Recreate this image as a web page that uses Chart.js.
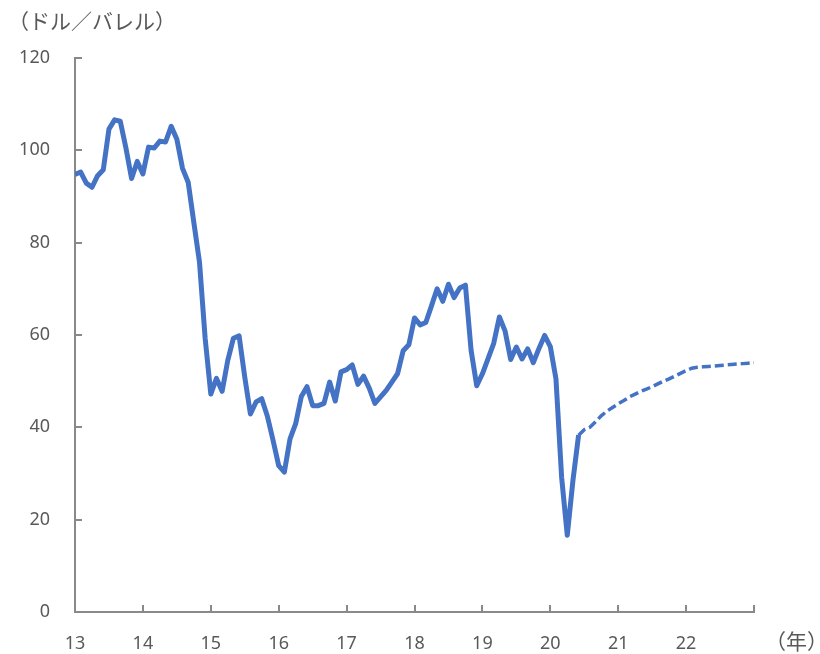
<!DOCTYPE html>
<html>
<head>
<meta charset="utf-8">
<script src="https://cdn.jsdelivr.net/npm/chart.js@4.4.0/dist/chart.umd.min.js"></script>
<style>
    body { margin: 0; background: #ffffff; }
    #wrap { width: 820px; height: 654px; }
</style>
</head>
<body>
<div id="wrap"><canvas id="graphCanvasPetroleo" width="820" height="654"></canvas></div>
<script>
// 月次の原油価格 2013年1月〜2020年6月（ドル／バレル）
var precoReal = [
    94.8, 95.3, 92.9, 92.0, 94.5, 95.8, 104.6, 106.6, 106.3, 100.5, 93.9, 97.6,
    94.9, 100.7, 100.5, 102.0, 101.8, 105.2, 102.4, 96.1, 93.1, 84.4, 75.8, 59.3,
    47.2, 50.6, 47.8, 54.5, 59.3, 59.8, 50.9, 42.9, 45.5, 46.2, 42.4, 37.2,
    31.7, 30.3, 37.5, 40.8, 46.7, 48.8, 44.7, 44.7, 45.2, 49.8, 45.7, 52.0,
    52.5, 53.5, 49.3, 51.1, 48.5, 45.2, 46.6, 48.0, 49.8, 51.6, 56.6, 57.9,
    63.7, 62.2, 62.7, 66.3, 70.0, 67.3, 71.0, 68.1, 70.2, 70.8, 56.7, 49.0,
    51.6, 54.9, 58.2, 63.9, 60.9, 54.7, 57.4, 54.8, 57.0, 54.0, 57.1, 59.9,
    57.5, 50.5, 29.2, 16.6, 28.5, 38.3
];

// 見通し 2020年6月〜2023年1月
var precoPrevisto = [
    38.3, 39.5, 40.0, 41.2, 42.5, 43.5, 44.3,
    45.1, 45.8, 46.6, 47.2, 47.8, 48.3, 48.8, 49.4, 50.0, 50.5, 51.1, 51.7,
    52.3, 52.8, 53.0, 53.1, 53.2, 53.3, 53.4, 53.5, 53.6, 53.7, 53.8, 53.9,
    54.0
];
var inicioPrevisto = 89; // índice do mês de junho de 2020

var anos = ['13', '14', '15', '16', '17', '18', '19', '20', '21', '22'];
var valoresY = [0, 20, 40, 60, 80, 100, 120];

var corLinha = '#4472C4';
var corEixo = '#898989';
var corTexto = '#595959';

Chart.defaults.font.family = "'Noto Sans', 'Noto Sans CJK JP', sans-serif";
Chart.defaults.font.size = 18;
Chart.defaults.color = corTexto;

function pontos(valores, inicio) {
    var lista = [];
    for (var i in valores) {
        lista.push({ x: inicio + Number(i), y: valores[i] });
    }
    return lista;
}

// marcas dos eixos (para dentro) e textos de unidade
var extras = {
    id: 'extras',
    beforeDatasetsDraw: function(chart) {
        var ctx = chart.ctx;
        var sx = chart.scales.x;
        var sy = chart.scales.y;
        var area = chart.chartArea;
        ctx.save();
        ctx.strokeStyle = corEixo;
        ctx.lineWidth = 2;
        ctx.beginPath();
        for (var i = 1; i <= anos.length; i++) {
            var px = Math.round(sx.getPixelForValue(i * 12));
            ctx.moveTo(px, area.bottom);
            ctx.lineTo(px, area.bottom - 7);
        }
        for (var j = 1; j < valoresY.length; j++) {
            var py = Math.round(sy.getPixelForValue(valoresY[j]));
            ctx.moveTo(area.left, py);
            ctx.lineTo(area.left + 7, py);
        }
        ctx.stroke();
        ctx.restore();
    },
    afterDraw: function(chart) {
        var ctx = chart.ctx;
        ctx.save();
        ctx.fillStyle = corTexto;
        ctx.font = "21px 'Noto Sans CJK JP', sans-serif";
        ctx.textBaseline = 'middle';
        ctx.textAlign = 'left';
        ctx.fillText('（ドル／バレル）', 8, 21);
        ctx.fillText('（年）', 765, 641);
        ctx.restore();
    }
};

function showGraphPetroleo() {
    var chartdata = {
        datasets: [{
            label: '実績',
            data: pontos(precoReal, 0),
            borderColor: corLinha,
            borderWidth: 5,
            borderJoinStyle: 'round',
            pointRadius: 0,
            tension: 0
        }, {
            label: '見通し',
            data: pontos(precoPrevisto, inicioPrevisto),
            borderColor: corLinha,
            borderWidth: 3.5,
            borderDash: [9, 4],
            pointRadius: 0,
            tension: 0
        }]
    };

    var graphTarget = document.getElementById('graphCanvasPetroleo');

    var lineGraph = new Chart(graphTarget, {
        type: 'line',
        data: chartdata,
        options: {
            responsive: false,
            animation: false,
            devicePixelRatio: 1,
            layout: { padding: { top: 58, right: 66, left: 0, bottom: 0 } },
            plugins: {
                legend: { display: false },
                tooltip: { enabled: false }
            },
            scales: {
                x: {
                    type: 'linear',
                    min: 0,
                    max: 120,
                    grid: { display: false, drawTicks: false },
                    border: { display: true, color: corEixo, width: 2 },
                    ticks: {
                        stepSize: 12,
                        autoSkip: false,
                        maxRotation: 0,
                        padding: 21,
                        callback: function(value) {
                            var k = value / 12;
                            return k < anos.length ? anos[k] : '';
                        }
                    },
                    afterFit: function(scale) { scale.height = 42; }
                },
                y: {
                    min: 0,
                    max: 120,
                    grid: { display: false, drawTicks: false },
                    border: { display: true, color: corEixo, width: 2 },
                    ticks: {
                        stepSize: 20,
                        padding: 25
                    },
                    afterFit: function(scale) { scale.width = 75; }
                }
            }
        },
        plugins: [extras]
    });
}

showGraphPetroleo();
</script>
</body>
</html>
